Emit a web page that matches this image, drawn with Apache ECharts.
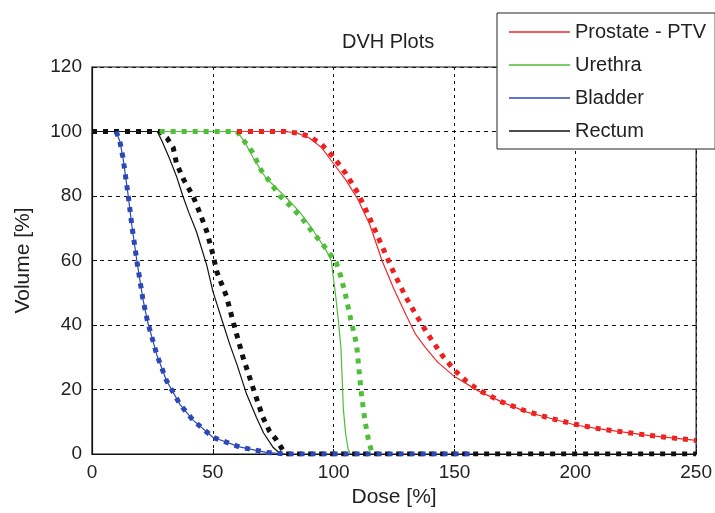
<!DOCTYPE html>
<html>
<head>
<meta charset="utf-8">
<title>DVH Plots</title>
<script src="https://cdn.jsdelivr.net/npm/echarts@6/dist/echarts.min.js"></script>
<style>
  html, body { margin: 0; padding: 0; background: #fff; }
  #main { width: 715px; height: 513px; }
</style>
</head>
<body>
<div id="main"></div>
<script>
// dose [%], volume [%] pairs
var prostateSolid = [[60,100],[70,100],[80,100],[85,99.5],[90,98],[95,95],[100,90],[105,85],[110,79],[115,71],[120,60],[125,51],[130,43],[134,37],[138,33],[143,28.5],[150,24],[160,19.5],[170,16],[180,13],[190,11],[200,9],[210,7.8],[220,6.8],[230,5.8],[240,5],[250,4.2]];
var prostateDotted = [[60,100],[70,100],[80,100],[85,99.5],[90,98.5],[95,96],[100,92],[105,87],[110,81],[115,73],[120,64.5],[125,56],[130,48.5],[135,42],[140,36],[145,30.5],[150,26],[155,22.5],[160,19.8],[170,16],[180,13.2],[190,11],[200,9.2],[210,7.8],[220,6.8],[230,5.8],[240,5],[250,4.2]];

var urethraSolid = [[28,100],[60,100],[63,97],[67,91.5],[72,85.5],[77,82],[81,79],[86,75],[90,71],[94,66.5],[97,63],[99,60],[100,54],[101,48],[102,41],[103,33],[103.5,24],[104,14],[105,6],[106,1.5],[107,0]];
var urethraDotted = [[28,100],[60,100],[63,97],[66.5,93.5],[70,88],[74,84],[77.7,80],[82,77],[87,73],[91,69],[95,65.5],[98,62.5],[101,59.5],[103,55],[105,49],[107,42],[109.5,34],[110.5,26],[111.5,18.5],[113,10],[114.5,4],[116,0]];

var bladderSolid = [[10,100],[11.5,97],[12.8,92],[15,80],[16.5,70.8],[18.6,59.7],[21,48.3],[23,41],[26.8,30.8],[30.8,22.8],[36.4,15.4],[41.8,10.5],[50,5.2],[61,2.2],[72,0.5],[80,0]];
var bladderDotted = [[10,100],[11.5,97],[12.8,92],[15,80],[16.5,70.8],[18.6,59.7],[21,48.3],[23,41],[26.8,30.8],[30.8,22.8],[36.4,15.4],[41.8,10.5],[50,5.2],[61,2.2],[72,0.5],[80,0],[100,0],[157,0]];

var rectumSolid = [[0,100],[27,100],[29,97],[32.2,91.4],[35,86],[37.6,80],[40,75],[43.2,69],[47.5,58.5],[50,50.5],[54,41],[57,34],[60,27.7],[64,18.5],[68,11.4],[71,6.5],[75,2],[78,0]];
var rectumDotted = [[0,100],[28,100],[31,98],[33.6,95],[35,90],[38,85],[41.8,80],[45,74],[47.5,69],[50,62],[51.6,56.6],[55.6,49],[58.4,41],[62.5,30],[66.6,20.6],[70.7,11.4],[73.5,7],[76.4,4.3],[80,0],[150,0],[250,0]];

var legendNames = ['Prostate - PTV', 'Urethra', 'Bladder', 'Rectum'];

var FONT = 'Liberation Sans, Arial, sans-serif';

function solid(name, color, data) {
    return {
        name: name, type: 'line', data: data, symbol: 'none',
        lineStyle: {color: color, width: 1.2},
        itemStyle: {color: color},
        animation: false
    };
}
function dotted(name, color, data) {
    return {
        name: name + ' (dots)', type: 'line', data: data, symbol: 'none',
        lineStyle: {color: color, width: 5, type: [5, 6], cap: 'butt'},
        itemStyle: {color: color},
        animation: false
    };
}

var chart = echarts.init(document.getElementById('main'));

var option = {
    backgroundColor: '#fff',
    title: {
        text: 'DVH Plots',
        left: 342, top: 32, padding: 0,
        textStyle: {fontFamily: FONT, fontSize: 20, fontWeight: 'normal', color: '#222'}
    },
    legend: {
        data: legendNames,
        orient: 'vertical',
        left: 497, top: 13,
        padding: [9, 9, 8, 12],
        icon: 'rect',
        itemWidth: 61, itemHeight: 1.3, itemGap: 13, itemTextGap: 6,
        backgroundColor: '#fff',
        borderColor: '#222', borderWidth: 1,
        selectedMode: false,
        textStyle: {fontFamily: FONT, fontSize: 20, color: '#222', lineHeight: 20}
    },
    grid: {
        left: 92, right: 18, top: 67, bottom: 56,
        show: true, borderColor: '#111', borderWidth: 1.2, backgroundColor: '#fff'
    },
    xAxis: {
        type: 'value', min: 0, max: 250, interval: 50,
        name: 'Dose [%]', nameLocation: 'middle', nameGap: 33,
        nameTextStyle: {fontFamily: FONT, fontSize: 21, color: '#222'},
        axisLine: {show: true, lineStyle: {color: '#111', width: 1.2}},
        axisTick: {show: true, inside: true, length: 5, lineStyle: {color: '#111'}},
        axisLabel: {fontFamily: FONT, fontSize: 19, color: '#222', margin: 9},
        splitLine: {show: true, lineStyle: {color: '#111', type: [3, 4], width: 1}}
    },
    yAxis: {
        type: 'value', min: 0, max: 120, interval: 20,
        name: 'Volume [%]', nameLocation: 'middle', nameGap: 58,
        nameTextStyle: {fontFamily: FONT, fontSize: 21, color: '#222'},
        axisLine: {show: true, lineStyle: {color: '#111', width: 1.2}},
        axisTick: {show: true, inside: true, length: 5, lineStyle: {color: '#111'}},
        axisLabel: {fontFamily: FONT, fontSize: 19, color: '#222', margin: 10},
        splitLine: {show: true, lineStyle: {color: '#111', type: [4, 4], width: 1}}
    },
    series: [
        dotted('Rectum', '#111111', rectumDotted),
        solid('Rectum', '#111111', rectumSolid),
        dotted('Urethra', '#4fbf3a', urethraDotted),
        solid('Urethra', '#52bb38', urethraSolid),
        dotted('Prostate - PTV', '#ee1f1f', prostateDotted),
        solid('Prostate - PTV', '#ee2a2a', prostateSolid),
        dotted('Bladder', '#2c48b8', bladderDotted),
        solid('Bladder', '#2c48b8', bladderSolid)
    ]
};

chart.setOption(option);
</script>
</body>
</html>
